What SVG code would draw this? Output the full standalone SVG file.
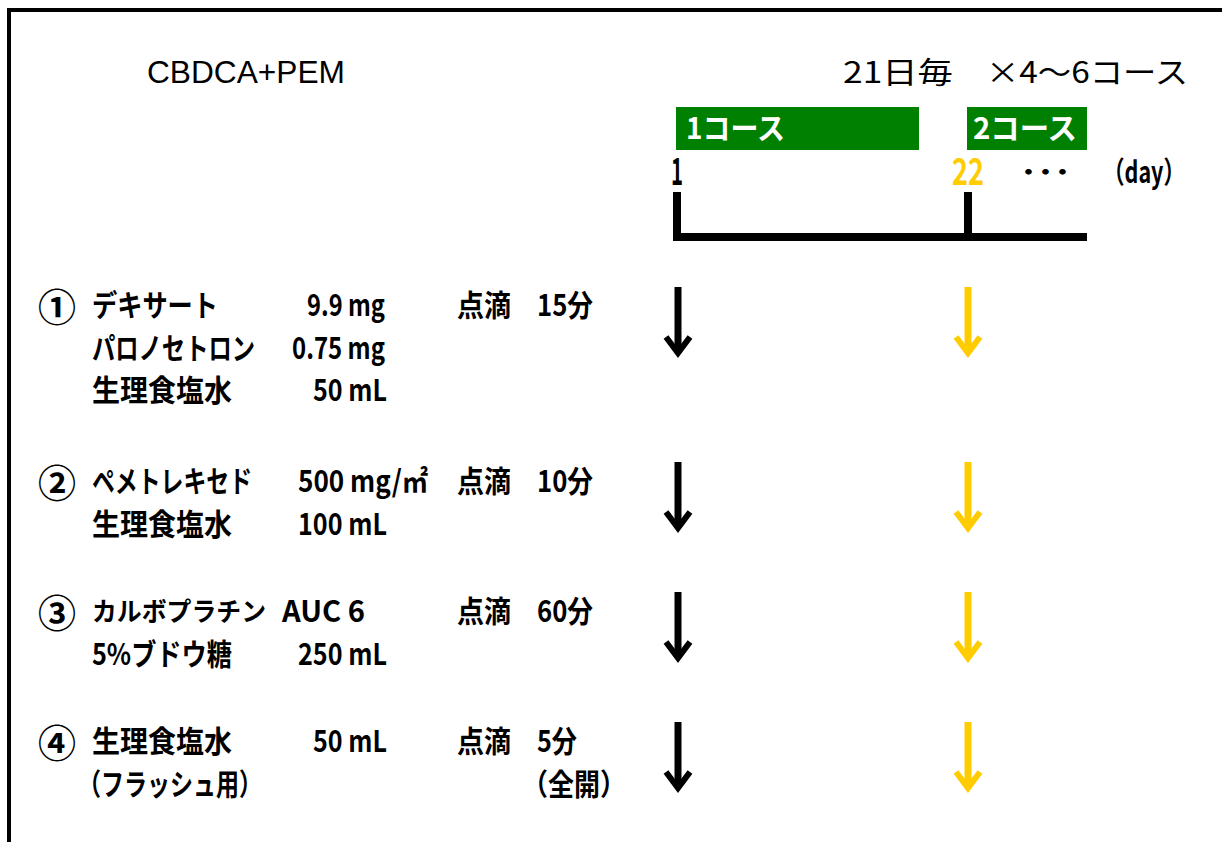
<svg xmlns="http://www.w3.org/2000/svg" width="1222" height="842" viewBox="0 0 1222 842">
<style>
  .jp{font-family:"Noto Sans CJK JP","Noto Sans CJK SC",sans-serif;font-size:30px;font-weight:bold;fill:#000}
  .circ{font-family:"Noto Sans CJK JP","Noto Sans CJK SC",sans-serif;font-size:38px;font-weight:bold;fill:#000}
  .reg{font-family:"Noto Sans CJK JP",sans-serif;font-size:30px;font-weight:normal;fill:#000}
  .lat{font-family:"Liberation Sans",Arial,sans-serif;font-size:31px;fill:#000}
  .wh{font-family:"Noto Sans CJK JP",sans-serif;font-size:30px;font-weight:bold;fill:#fff}
  .num{font-family:"Noto Sans CJK JP",sans-serif;font-size:37px;font-weight:bold}
  .dots{font-family:"Noto Sans CJK JP",sans-serif;font-size:29px;font-weight:bold;fill:#000}
  .bk{stroke:#000}
  .yl{stroke:#FFCC00}
  .line{fill:none;stroke:#000;stroke-width:8;stroke-linejoin:miter}
  .bar{fill:#008000}
</style>
<defs>
  <g id="arr" fill="none">
    <path d="M0,0 V66" stroke-width="7"/>
    <path d="M-12,50 L0,66 L12,50" stroke-width="6" stroke-linejoin="miter"/>
  </g>
</defs>
<rect x="0" y="0" width="1222" height="842" fill="#fff"/>
<path d="M9,842 V10 H1222" fill="none" stroke="#000" stroke-width="4"/>

<g id="title">
  <text class="lat" x="147" y="83" textLength="198" lengthAdjust="spacingAndGlyphs">CBDCA+PEM</text>
</g>

<g id="cycle">
  <text class="reg" x="843" y="83" textLength="110" lengthAdjust="spacingAndGlyphs">21日毎</text>
  <text class="reg" x="986" y="83" textLength="202" lengthAdjust="spacingAndGlyphs">×4〜6コース</text>
</g>

<g id="timeline">
  <rect id="course1" class="bar" x="676" y="107" width="243" height="43"/>
  <text class="wh" x="686" y="139" textLength="99" lengthAdjust="spacingAndGlyphs">1コース</text>
  <rect id="course2" class="bar" x="967" y="107" width="120" height="43"/>
  <text class="wh" x="973" y="139" textLength="104" lengthAdjust="spacingAndGlyphs">2コース</text>
  <text class="num" x="671" y="185" textLength="12" lengthAdjust="spacingAndGlyphs" fill="#000">1</text>
  <text class="num" x="952" y="185" textLength="32" lengthAdjust="spacingAndGlyphs" fill="#FFCC00">22</text>
  <text class="dots" x="1020" y="183" textLength="51" lengthAdjust="spacingAndGlyphs">･･･</text>
  <text class="jp" x="1103" y="183" textLength="82" lengthAdjust="spacingAndGlyphs">（day）</text>
  <path class="line" d="M677,192 V237 H1087 M968,192 V237"/>
</g>

<g id="step1">
  <text class="circ" x="38" y="321">①</text>
  <text class="jp" x="92" y="316" textLength="126" lengthAdjust="spacingAndGlyphs">デキサート</text>
  <text class="jp" x="307" y="316" textLength="78" lengthAdjust="spacingAndGlyphs">9.9 mg</text>
  <text class="jp" x="457" y="316" textLength="54" lengthAdjust="spacingAndGlyphs">点滴</text>
  <text class="jp" x="537" y="316" textLength="56" lengthAdjust="spacingAndGlyphs">15分</text>
  <text class="jp" x="92" y="359" textLength="163" lengthAdjust="spacingAndGlyphs">パロノセトロン</text>
  <text class="jp" x="292" y="359" textLength="93" lengthAdjust="spacingAndGlyphs">0.75 mg</text>
  <text class="jp" x="92" y="401" textLength="140" lengthAdjust="spacingAndGlyphs">生理食塩水</text>
  <text class="jp" x="313" y="401" textLength="74" lengthAdjust="spacingAndGlyphs">50 mL</text>
</g>

<g id="step2">
  <text class="circ" x="38" y="497">②</text>
  <text class="jp" x="92" y="492" textLength="160" lengthAdjust="spacingAndGlyphs">ペメトレキセド</text>
  <text class="jp" x="298" y="492" textLength="130" lengthAdjust="spacingAndGlyphs">500 mg/㎡</text>
  <text class="jp" x="457" y="492" textLength="54" lengthAdjust="spacingAndGlyphs">点滴</text>
  <text class="jp" x="537" y="492" textLength="56" lengthAdjust="spacingAndGlyphs">10分</text>
  <text class="jp" x="92" y="535" textLength="140" lengthAdjust="spacingAndGlyphs">生理食塩水</text>
  <text class="jp" x="298" y="535" textLength="89" lengthAdjust="spacingAndGlyphs">100 mL</text>
</g>

<g id="step3">
  <text class="circ" x="38" y="627">③</text>
  <text class="jp" x="92" y="621" style="font-size:26px" textLength="174" lengthAdjust="spacingAndGlyphs">カルボプラチン</text>
  <text class="jp" x="282" y="622" textLength="83" lengthAdjust="spacingAndGlyphs">AUC 6</text>
  <text class="jp" x="457" y="622" textLength="54" lengthAdjust="spacingAndGlyphs">点滴</text>
  <text class="jp" x="537" y="622" textLength="56" lengthAdjust="spacingAndGlyphs">60分</text>
  <text class="jp" x="92" y="665" textLength="140" lengthAdjust="spacingAndGlyphs">5%ブドウ糖</text>
  <text class="jp" x="298" y="665" textLength="89" lengthAdjust="spacingAndGlyphs">250 mL</text>
</g>

<g id="step4">
  <text class="circ" x="38" y="757">④</text>
  <text class="jp" x="92" y="752" textLength="140" lengthAdjust="spacingAndGlyphs">生理食塩水</text>
  <text class="jp" x="313" y="752" textLength="74" lengthAdjust="spacingAndGlyphs">50 mL</text>
  <text class="jp" x="457" y="752" textLength="54" lengthAdjust="spacingAndGlyphs">点滴</text>
  <text class="jp" x="537" y="752" textLength="40" lengthAdjust="spacingAndGlyphs">5分</text>
  <text class="jp" x="78" y="795" textLength="184" lengthAdjust="spacingAndGlyphs">（フラッシュ用）</text>
  <text class="jp" x="522" y="795" textLength="104" lengthAdjust="spacingAndGlyphs">（全開）</text>
</g>

<g id="connectors">
  <use href="#arr" class="bk" x="678" y="287"/>
  <use href="#arr" class="yl" x="968" y="287"/>
  <use href="#arr" class="bk" x="678" y="462"/>
  <use href="#arr" class="yl" x="968" y="462"/>
  <use href="#arr" class="bk" x="678" y="592"/>
  <use href="#arr" class="yl" x="968" y="592"/>
  <use href="#arr" class="bk" x="678" y="722"/>
  <use href="#arr" class="yl" x="968" y="722"/>
</g>
</svg>
